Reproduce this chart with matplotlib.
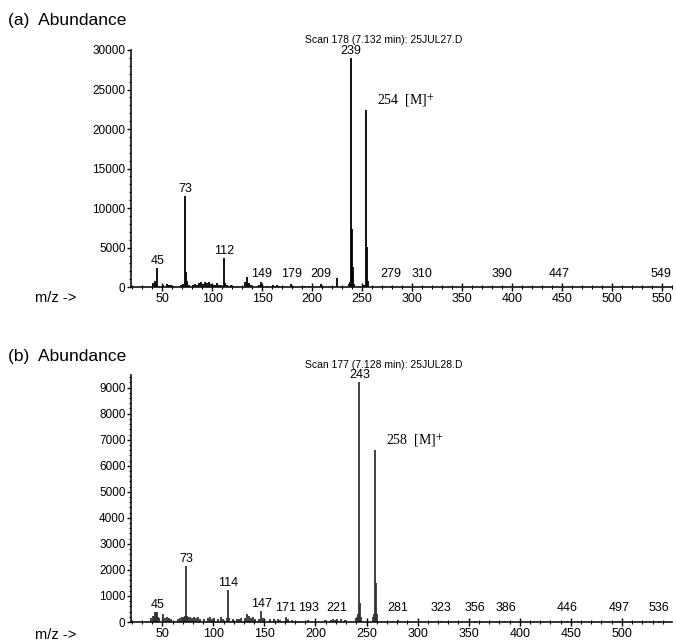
import matplotlib
matplotlib.use("Agg")
import matplotlib.pyplot as plt
from matplotlib.ticker import MultipleLocator

plt.rcParams['font.family'] = ['Liberation Sans', 'DejaVu Sans']
plt.rcParams['mathtext.fontset'] = 'stix'

# ---------------- data: panel (a) ----------------
mz_a = [41, 43, 44, 45, 47, 51, 55, 57, 59, 61, 69, 71, 73, 74, 75, 77, 81, 83, 85, 87,
        89, 91, 93, 95, 97, 99, 101, 103, 105, 107, 109, 112, 113, 115, 117, 119, 121,
        125, 133, 135, 136, 137, 139, 147, 149, 150, 155, 161, 163, 165, 167, 171, 179,
        181, 193, 197, 209, 225, 237, 238, 239, 240, 241, 242, 252, 253, 254, 255, 256,
        279, 310, 390, 447, 549]
ab_a = [500, 800, 400, 2400, 200, 300, 400, 300, 300, 200, 300, 400, 11500, 1900, 800,
        300, 300, 400, 300, 500, 600, 400, 600, 500, 700, 400, 300, 300, 500, 300, 300,
        3700, 500, 300, 200, 300, 200, 200, 600, 1300, 400, 500, 300, 300, 600, 300, 200,
        300, 200, 300, 200, 200, 400, 150, 200, 100, 400, 1100, 400, 600, 29000, 7300,
        2600, 400, 300, 200, 22400, 5100, 800, 100, 80, 60, 60, 60]
labels_a = [45, 73, 112, 149, 179, 209, 239, 279, 310, 390, 447, 549]
mion_a = 254
title_a = "Scan 178 (7.132 min): 25JUL27.D"
yticks_a = [0, 5000, 10000, 15000, 20000, 25000, 30000]

# ---------------- data: panel (b) ----------------
mz_b = [39, 41, 42, 43, 44, 45, 46, 47, 51, 53, 55, 57, 59, 65, 67, 69, 70, 71, 72, 73,
        74, 75, 77, 79, 81, 83, 85, 87, 91, 95, 97, 99, 101, 105, 107, 109, 113, 114, 115,
        119, 123, 125, 127, 131, 133, 135, 137, 139, 141, 145, 147, 149, 155, 159, 163,
        165, 171, 173, 177, 183, 193, 209, 215, 217, 219, 221, 225, 229, 240, 241, 242,
        243, 244, 245, 256, 257, 258, 259, 260, 281, 323, 356, 386, 446, 497, 536]
ab_b = [150, 250, 200, 400, 350, 380, 200, 150, 300, 150, 200, 150, 100, 100, 150, 200,
        150, 200, 250, 2150, 250, 200, 200, 150, 200, 150, 200, 100, 100, 150, 200, 100,
        150, 100, 200, 100, 150, 1230, 150, 100, 100, 100, 150, 150, 300, 250, 150, 200,
        100, 100, 420, 150, 100, 100, 100, 80, 200, 100, 60, 50, 60, 60, 80, 100, 80, 120,
        100, 80, 150, 200, 300, 9200, 730, 200, 200, 300, 6600, 1500, 300, 60, 40, 40, 40,
        50, 40, 40]
labels_b = [45, 73, 114, 147, 171, 193, 221, 243, 281, 323, 356, 386, 446, 497, 536]
mion_b = 258
title_b = "Scan 177 (7.128 min): 25JUL28.D"
yticks_b = [0, 1000, 2000, 3000, 4000, 5000, 6000, 7000, 8000, 9000]

fig = plt.figure(figsize=(6.76, 6.41), dpi=100)

def panel(rect, mz, ab, labels, mion, title, yticks, ylim, xlim, minor_y, tag, color,
          title_y, tag_y, mz_y):
    ax = fig.add_axes(rect)
    ax.vlines(mz, 0, ab, colors=color, linewidth=1.3)
    ax.set_xlim(*xlim)
    ax.set_ylim(*ylim)
    for s in ['top', 'right']:
        ax.spines[s].set_visible(False)
    for s in ['left', 'bottom']:
        ax.spines[s].set_linewidth(1.2)
        ax.spines[s].set_color('#111111')
    ax.set_yticks(yticks)
    ax.yaxis.set_minor_locator(MultipleLocator(minor_y))
    ax.xaxis.set_major_locator(MultipleLocator(50))
    ax.xaxis.set_minor_locator(MultipleLocator(10))
    ax.tick_params(axis='y', which='major', direction='out', length=3, width=1,
                   labelsize=8.5, pad=1)
    ax.tick_params(axis='y', which='minor', direction='out', length=1.5, width=0.8)
    ax.tick_params(axis='x', which='major', direction='inout', length=6, width=1,
                   labelsize=9, pad=1)
    ax.tick_params(axis='x', which='minor', direction='inout', length=3, width=0.8)
    floor = 0.025 * ylim[1]
    lookup = dict(zip(mz, ab))
    for m in labels:
        y = max(lookup.get(m, 0), floor)
        ax.annotate(str(m), (m, y), xytext=(0, 1), textcoords='offset points',
                    ha='center', va='bottom', fontsize=9)
    ax.annotate(f"{mion}  [M]" + r"$^{+}$", (mion, lookup[mion]), xytext=(8, 0.5),
                textcoords='offset points', ha='left', va='bottom', fontsize=10,
                family=['Liberation Serif', 'DejaVu Serif'])
    fig.text(0.567, title_y, title, ha='center', va='center', fontsize=7.5)
    fig.text(0.012, tag_y, tag, ha='left', va='center', fontsize=12.5)
    fig.text(0.052, mz_y, "m/z ->", ha='left', va='center', fontsize=10.5)
    return ax

panel([0.194, 0.552, 0.800, 0.370], mz_a, ab_a, labels_a, mion_a, title_a, yticks_a,
      (0, 30000), (19, 560), 1000, "(a)  Abundance", 'black',
      1 - 40 / 641, 1 - 20 / 641, 1 - 298 / 641)
panel([0.194, 0.0296, 0.800, 0.386], mz_b, ab_b, labels_b, mion_b, title_b, yticks_b,
      (0, 9500), (19.5, 549), 200, "(b)  Abundance", '#333333',
      1 - 365 / 641, 1 - 357 / 641, 1 - 635 / 641)

fig.savefig("out.png", dpi=100)
